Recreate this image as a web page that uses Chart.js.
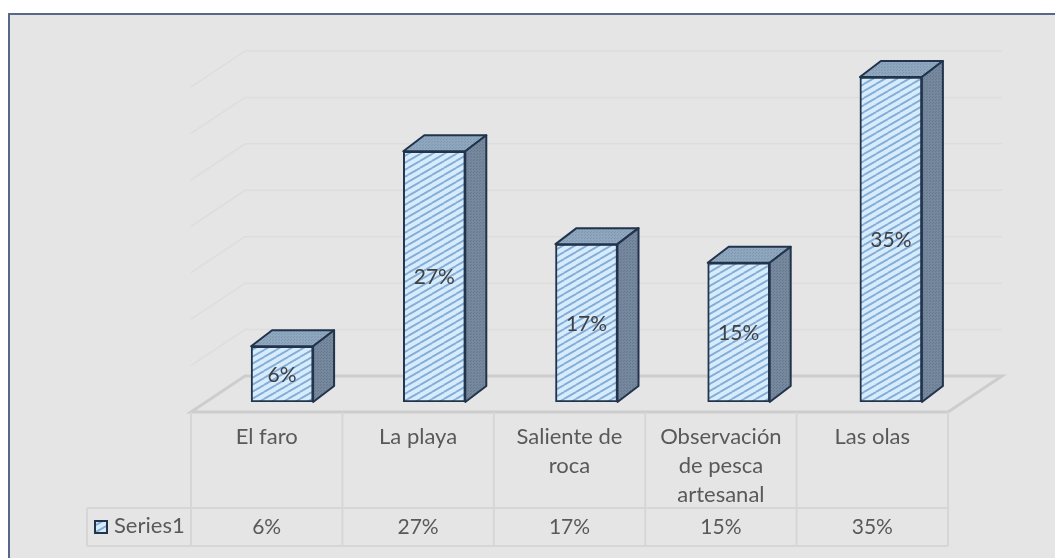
<!DOCTYPE html>
<html>
<head>
<meta charset="utf-8">
<script src="https://cdn.jsdelivr.net/npm/chart.js@4"></script>
<style>
  html, body { margin: 0; padding: 0; background: #fff; }
  #wrap { position: absolute; left: 0; top: 0; width: 1055px; height: 558px; }
</style>
</head>
<body>
<div id="wrap"><canvas id="chart" width="1055" height="558"></canvas></div>
<script>
const categories = ['El faro', 'La playa', 'Saliente de roca', 'Observación de pesca artesanal', 'Las olas'];
const tableLabels = [['El faro'], ['La playa'], ['Saliente de', 'roca'], ['Observación', 'de pesca', 'artesanal'], ['Las olas']];
const seriesName = 'Series1';
const seriesValues = [6, 27, 17, 15, 35];
const gridTicks = [0, 5, 10, 15, 20, 25, 30, 35];

const FONT = 'Lato, "Open Sans", sans-serif';
const TEXT = '#595959';
const GRID = '#d6d6d6';
const EDGE = '#22344c';

// hatch for the front of the bars
function hatch() {
  const c = document.createElement('canvas');
  c.width = 12; c.height = 7;
  const g = c.getContext('2d');
  g.fillStyle = '#d6ecfd';
  g.fillRect(0, 0, 12, 7);
  g.strokeStyle = '#86aed6';
  g.lineWidth = 1.6;
  [[-12, 7, 12, -7], [0, 7, 12, 0], [-12, 14, 12, 0], [0, 14, 24, 0]].forEach(l => {
    g.beginPath(); g.moveTo(l[0], l[1]); g.lineTo(l[2], l[3]); g.stroke();
  });
  return g.createPattern(c, 'repeat');
}

// dotted shade for the top and side of the bars
function dots(base, dot) {
  const c = document.createElement('canvas');
  c.width = 3; c.height = 3;
  const g = c.getContext('2d');
  g.fillStyle = base;
  g.fillRect(0, 0, 3, 3);
  g.fillStyle = dot;
  g.fillRect(0, 0, 1, 1);
  g.fillRect(2, 1, 1, 1);
  return g.createPattern(c, 'repeat');
}

function poly(ctx, pts, fill, stroke, width) {
  ctx.beginPath();
  pts.forEach((p, i) => i ? ctx.lineTo(p[0], p[1]) : ctx.moveTo(p[0], p[1]));
  ctx.closePath();
  if (fill) { ctx.fillStyle = fill; ctx.fill(); }
  if (stroke) { ctx.strokeStyle = stroke; ctx.lineWidth = width; ctx.stroke(); }
}

/* panel, back wall and floor, behind the bars */
const backdrop = {
  id: 'backdrop',
  beforeDatasetsDraw(chart) {
    const { ctx } = chart;
    const y = chart.scales.y, x = chart.scales.x;
    ctx.save();
    ctx.fillStyle = '#e5e5e5';
    ctx.fillRect(9, 14, 1046, 544);
    // only the top and left edges of the frame are in the picture
    ctx.strokeStyle = '#56698a';
    ctx.lineWidth = 2;
    ctx.beginPath();
    ctx.moveTo(9, 558); ctx.lineTo(9, 14); ctx.lineTo(1055, 14);
    ctx.stroke();

    const left = x.left - 15, right = x.right - 19;
    // wall lines, faint
    ctx.strokeStyle = '#dddddd';
    ctx.lineWidth = 1.5;
    gridTicks.slice(1).forEach(t => {
      const py = y.getPixelForValue(t);
      ctx.beginPath();
      ctx.moveTo(left, py + 10);
      ctx.lineTo(left + 54, py - 26);
      ctx.lineTo(right + 54, py - 26);
      ctx.stroke();
    });
    // floor
    const b = y.getPixelForValue(0);
    poly(ctx, [[left, b + 10], [left + 54, b - 26], [right + 54, b - 26], [right, b + 10]], '#e5e5e5', '#cdcdcd', 3);
    ctx.restore();
  }
};

/* depth faces and value labels, on top of the library bars */
const depth = {
  id: 'depth',
  afterDatasetsDraw(chart) {
    const { ctx } = chart;
    const dx = 21, dy = -16;
    const topFill = dots('#8fa6bf', '#7f96b0'), sideFill = dots('#75889d', '#66788d');
    ctx.save();
    ctx.lineJoin = 'round';
    chart.getDatasetMeta(0).data.forEach((bar, i) => {
      const l = bar.x - bar.width / 2, r = bar.x + bar.width / 2, t = bar.y, b = bar.base;
      poly(ctx, [[l, t], [l + dx, t + dy], [r + dx, t + dy], [r, t]], topFill, EDGE, 2);
      poly(ctx, [[r, t], [r + dx, t + dy], [r + dx, b + dy], [r, b]], sideFill, EDGE, 2);
      ctx.fillStyle = '#404040';
      ctx.font = '21px ' + FONT;
      ctx.textAlign = 'center';
      ctx.textBaseline = 'middle';
      ctx.fillText(seriesValues[i] + '%', bar.x, (t + b) / 2 + 1);
    });
    ctx.restore();
  }
};

/* data table under the plot */
const dataTable = {
  id: 'dataTable',
  afterDraw(chart) {
    const { ctx } = chart;
    const x = chart.scales.x, y = chart.scales.y;
    const left = x.left - 15, right = x.right - 19;
    const top = y.getPixelForValue(0) + 10, mid = top + 96, bottom = top + 134;
    const col = (right - left) / categories.length;
    const keyLeft = left - 104;
    ctx.save();
    ctx.strokeStyle = GRID;
    ctx.lineWidth = 2;
    for (let i = 0; i <= categories.length; i++) {
      ctx.beginPath();
      ctx.moveTo(left + col * i, top);
      ctx.lineTo(left + col * i, bottom);
      ctx.stroke();
    }
    ctx.beginPath();
    ctx.moveTo(keyLeft, mid); ctx.lineTo(right, mid);
    ctx.moveTo(keyLeft, bottom); ctx.lineTo(right, bottom);
    ctx.moveTo(keyLeft, mid); ctx.lineTo(keyLeft, bottom);
    ctx.stroke();

    ctx.fillStyle = TEXT;
    ctx.textAlign = 'center';
    ctx.textBaseline = 'middle';
    categories.forEach((c, i) => {
      const cx = left + col * (i + 0.5);
      ctx.font = '22px ' + FONT;
      tableLabels[i].forEach((line, n) => ctx.fillText(line, cx, top + 25 + n * 29));
      ctx.font = '21px ' + FONT;
      ctx.fillText(seriesValues[i] + '%', cx, mid + 19);
    });
    ctx.textAlign = 'left';
    ctx.font = '22px ' + FONT;
    ctx.fillText(seriesName, keyLeft + 27, mid + 18);
    ctx.fillStyle = hatch();
    ctx.strokeStyle = EDGE;
    ctx.lineWidth = 2;
    ctx.fillRect(keyLeft + 8, mid + 13, 12, 12);
    ctx.strokeRect(keyLeft + 8, mid + 13, 12, 12);
    ctx.restore();
  }
};

new Chart(document.getElementById('chart').getContext('2d'), {
  type: 'bar',
  data: {
    labels: categories,
    datasets: [{
      label: seriesName,
      data: seriesValues,
      backgroundColor: hatch(),
      borderColor: EDGE,
      borderWidth: 2,
      borderSkipped: false,
      barThickness: 62,
    }]
  },
  options: {
    responsive: false,
    animation: false,
    layout: { padding: { left: 206, right: 88, top: 77, bottom: 156 } },
    plugins: { legend: { display: false }, tooltip: { enabled: false } },
    scales: {
      x: { display: false },
      y: { display: false, min: 0, max: 35 }
    }
  },
  plugins: [backdrop, depth, dataTable]
});
</script>
</body>
</html>
